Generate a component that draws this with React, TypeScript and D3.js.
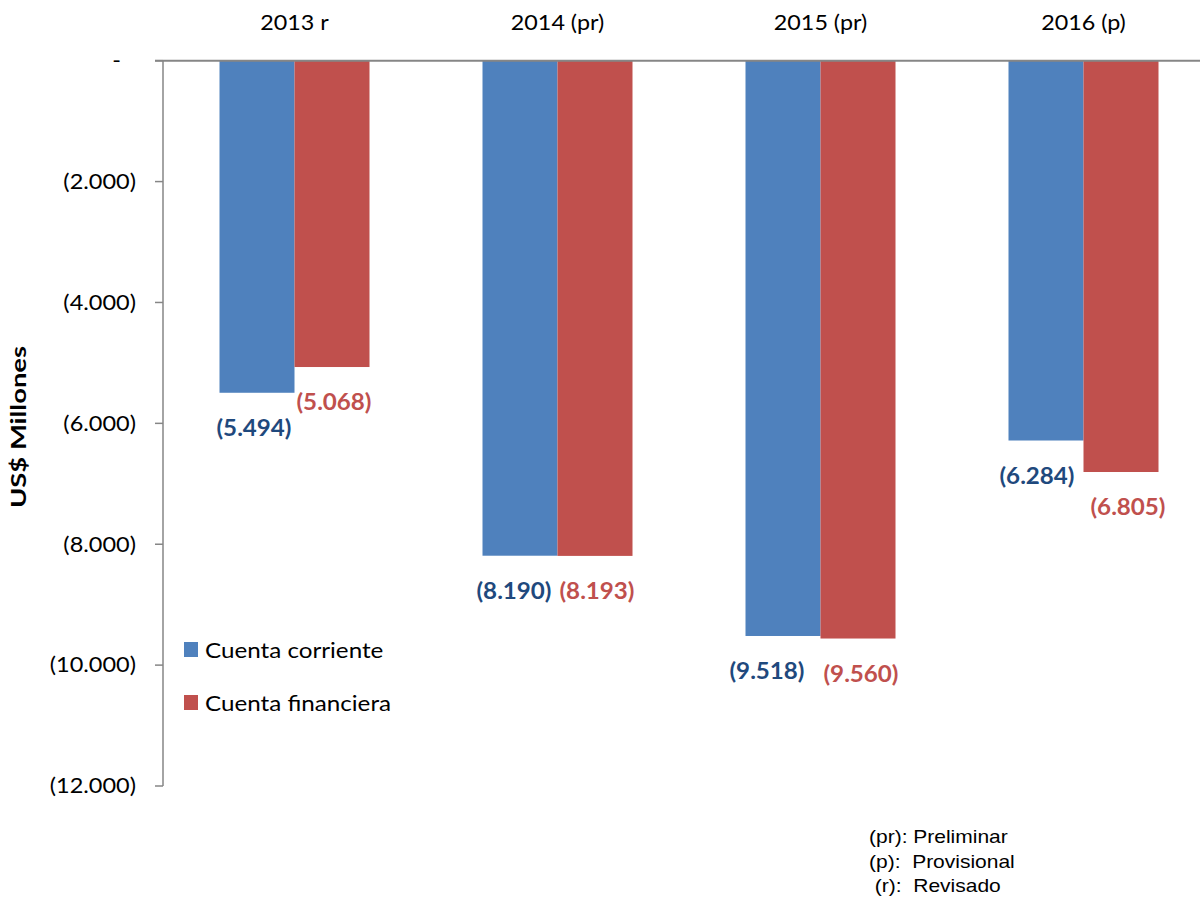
import React from "react";
import * as d3 from "d3";

const categories = ["2013 r", "2014 (pr)", "2015 (pr)", "2016 (p)"];
const seriesNames = ["Cuenta corriente", "Cuenta financiera"];
const corriente = [-5494, -8190, -9518, -6284];
const financiera = [-5068, -8193, -9560, -6805];
const yTicks = [0, -2000, -4000, -6000, -8000, -10000, -12000];
const footnotes = ["(pr): Preliminar", "(p):  Provisional", " (r):  Revisado"];

const colors = ["#4F81BD", "#C0504D"];
const labelColors = ["#1F497D", "#C0504D"];
const FONT = "Lato, 'Open Sans', sans-serif";
const ARIAL = "'Liberation Sans', Arial, sans-serif";

// horizontal nudges of the data labels (layout only)
const labelNudge = [
  [-3, -6, -16, -9],
  [2, 2, 3, 7],
];

const fmt = (v: number) => {
  if (v === 0) return "-";
  const s = d3.format(",")(Math.abs(v)).replace(/,/g, ".");
  return v < 0 ? `(${s})` : s;
};

type TxtProps = {
  x: number;
  y: number;
  sx?: number;
  anchor?: "start" | "middle" | "end";
  size: number;
  weight?: string;
  fill?: string;
  family?: string;
  children: React.ReactNode;
};

function Txt({ x, y, sx = 1, anchor = "start", size, weight = "normal", fill = "#000", family = FONT, children }: TxtProps) {
  return (
    <g transform={`translate(${x},${y}) scale(${sx},1)`}>
      <text x={0} y={0} dy="0.35em" textAnchor={anchor} fontFamily={family} fontSize={size} fontWeight={weight} fill={fill} style={{ whiteSpace: "pre" }}>
        {children}
      </text>
    </g>
  );
}

export default function App() {
  const W = 1200, H = 898;
  const y = d3.scaleLinear().domain([0, -12000]).range([60.7, 786]);
  const x = d3.scaleBand<string>().domain(categories).range([163, 1215]);
  const bw = x.bandwidth();
  const x1 = d3.scaleBand<string>().domain(seriesNames).range([bw / 2 - 75, bw / 2 + 75]);
  const data = [corriente, financiera];

  return (
    <svg width={W} height={H} style={{ position: "absolute", left: 0, top: 0, background: "#fff" }}>
      {data.map((vals, si) =>
        vals.map((v, ci) => {
          const bx = (x(categories[ci]) as number) + (x1(seriesNames[si]) as number);
          return <rect key={`b${si}-${ci}`} x={bx} y={y(0)} width={x1.bandwidth()} height={y(v) - y(0)} fill={colors[si]} />;
        })
      )}
      <line x1={163} x2={163} y1={y(0)} y2={y(-12000)} stroke="#868686" strokeWidth={1.5} />
      {yTicks.map((t) => (
        <g key={t}>
          <line x1={155} x2={163} y1={y(t)} y2={y(t)} stroke="#868686" strokeWidth={1.5} />
          <Txt x={t === 0 ? 121 : 136} y={y(t)} anchor="end" size={21} sx={1.12}>
            {fmt(t)}
          </Txt>
        </g>
      ))}
      <line x1={155} x2={1200} y1={y(0)} y2={y(0)} stroke="#868686" strokeWidth={2} />
      {categories.map((c) => (
        <Txt key={c} x={(x(c) as number) + bw / 2} y={22} anchor="middle" size={22} sx={1.06}>
          {c}
        </Txt>
      ))}
      {data.map((vals, si) =>
        vals.map((v, ci) => {
          const cx = (x(categories[ci]) as number) + (x1(seriesNames[si]) as number) + x1.bandwidth() / 2;
          return (
            <Txt key={`l${si}-${ci}`} x={cx + labelNudge[si][ci]} y={y(v) + 35} anchor="middle" size={23} sx={1.05} weight="bold" fill={labelColors[si]}>
              {fmt(v)}
            </Txt>
          );
        })
      )}
      <g transform="translate(19,427) rotate(-90)">
        <text x={0} y={0} dy="0.35em" textAnchor="middle" fontFamily={FONT} fontWeight="bold" fontSize={20} fill="#000" textLength={162} lengthAdjust="spacingAndGlyphs">
          US$ Millones
        </text>
      </g>
      {seriesNames.map((s, i) => (
        <g key={s} transform={`translate(184,${642 + i * 53})`}>
          <rect x={0} y={0} width={14} height={15} fill={colors[i]} />
          <Txt x={21} y={8} size={22} sx={1.1}>
            {s}
          </Txt>
        </g>
      ))}
      {footnotes.map((f, i) => (
        <Txt key={f} x={869} y={837 + i * 24.5} size={17.5} sx={1.2} family={ARIAL}>
          {f}
        </Txt>
      ))}
    </svg>
  );
}
